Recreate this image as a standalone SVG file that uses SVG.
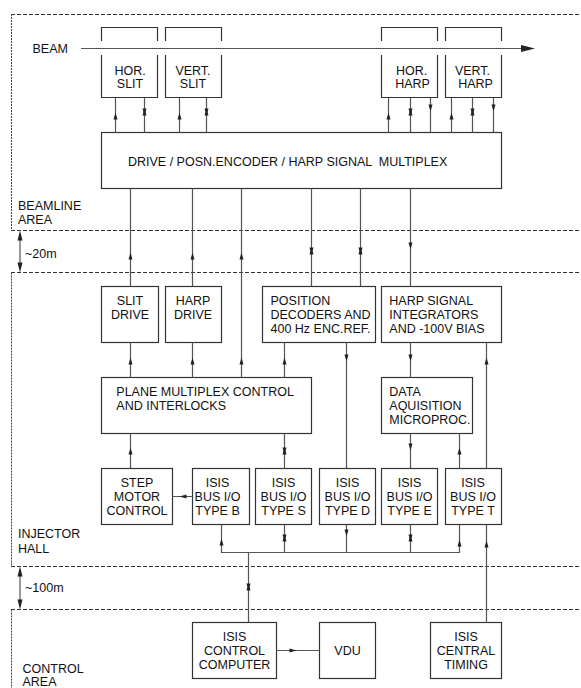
<svg xmlns="http://www.w3.org/2000/svg" xmlns:xlink="http://www.w3.org/1999/xlink" width="581" height="688" viewBox="0 0 581 688">
<style>
text{font-family:"Liberation Sans",Arial,Helvetica,sans-serif;font-size:12.5px;fill:#111}
.m{text-anchor:middle}
.box{fill:none;stroke:#333;stroke-width:1.2}
.ln{fill:none;stroke:#555;stroke-width:1.2}
.dh{fill:none;stroke:#333;stroke-width:1;stroke-dasharray:4,2}
.dv{fill:none;stroke:#444;stroke-width:1;stroke-dasharray:2,1}
.ah{fill:#222}
</style>
<defs>
<path id="up" d="M0,-3.5 L2,3.5 L-2,3.5 Z"/>
<path id="dn" d="M0,3.5 L2,-3.5 L-2,-3.5 Z"/>
<g id="bi"><path d="M0,-3.5 L2,3.5 L-2,3.5 Z"/><path d="M0,3.5 L2,-3.5 L-2,-3.5 Z"/></g>
<path id="lf" d="M-3.5,0 L3.5,-2 L3.5,2 Z"/>
<path id="rt" d="M3.5,0 L-3.5,-2 L-3.5,2 Z"/>
</defs>

<g id="areas">
<path class="dh" d="M11,14.5 H581 M11,230.5 H581 M11,272.5 H581 M11,566.5 H581 M11,609.5 H581"/>
<path class="dv" d="M11.5,14 V230 M11.5,272.5 V566 M11.5,609.5 V688"/>
<text x="18" y="210">BEAMLINE</text>
<text x="18" y="224">AREA</text>
<text x="18" y="538">INJECTOR</text>
<text x="18" y="553">HALL</text>
<text x="22.5" y="673">CONTROL</text>
<text x="22.5" y="686">AREA</text>
<path class="ln" d="M20,238 V265"/>
<polygon class="ah" points="20,230.5 22.5,240.5 17.5,240.5"/>
<polygon class="ah" points="20,272.5 22.5,262.5 17.5,262.5"/>
<text x="25" y="257.5">~20m</text>
<path class="ln" d="M20,574 V602"/>
<polygon class="ah" points="20,566.5 22.5,576.5 17.5,576.5"/>
<polygon class="ah" points="20,609.5 22.5,599.5 17.5,599.5"/>
<text x="25" y="592">~100m</text>
</g>

<g id="beam">
<text x="32.5" y="53">BEAM</text>
<path class="ln" d="M81,48.5 H523"/>
<polygon class="ah" points="521,45 535,48.5 521,52"/>
</g>

<g id="hor-slit">
<path class="box" d="M101.5,41 V27.5 H157.5 V41 M101.5,55 V97.5 H157.5 V55"/>
<text class="m" x="130" y="75">HOR.</text>
<text class="m" x="130" y="88">SLIT</text>
</g>
<g id="vert-slit">
<path class="box" d="M165.5,41 V27.5 H221.5 V41 M165.5,55 V97.5 H221.5 V55"/>
<text class="m" x="193" y="75">VERT.</text>
<text class="m" x="193" y="88">SLIT</text>
</g>
<g id="hor-harp">
<path class="box" d="M381.5,41 V27.5 H437.5 V41 M381.5,55 V97.5 H437.5 V55"/>
<text class="m" x="411.5" y="75">HOR.</text>
<text class="m" x="412.5" y="88">HARP</text>
</g>
<g id="vert-harp">
<path class="box" d="M445.5,41 V27.5 H501.5 V41 M445.5,55 V97.5 H501.5 V55"/>
<text class="m" x="472.5" y="75">VERT.</text>
<text class="m" x="475.5" y="88">HARP</text>
</g>

<g id="multiplex">
<rect class="box" x="101.5" y="132.5" width="400" height="56"/>
<text x="128" y="165.5" xml:space="preserve">DRIVE / POSN.ENCODER / HARP SIGNAL  MULTIPLEX</text>
</g>

<g id="slit-drive">
<rect class="box" x="101.5" y="286.5" width="57" height="56"/>
<text class="m" x="130" y="304.5">SLIT</text>
<text class="m" x="130" y="318.5">DRIVE</text>
</g>
<g id="harp-drive">
<rect class="box" x="165.5" y="286.5" width="56" height="56"/>
<text class="m" x="193" y="304.5">HARP</text>
<text class="m" x="193" y="318.5">DRIVE</text>
</g>
<g id="position">
<rect class="box" x="262.5" y="286.5" width="113" height="56"/>
<text x="270.5" y="304.5">POSITION</text>
<text x="270.5" y="318.5">DECODERS AND</text>
<text x="270.5" y="333">400 Hz ENC.REF.</text>
</g>
<g id="harp-integrators">
<rect class="box" x="381.5" y="286.5" width="120" height="56"/>
<text x="389.3" y="304.5">HARP SIGNAL</text>
<text x="389.3" y="318.5">INTEGRATORS</text>
<text x="389.3" y="333">AND -100V BIAS</text>
</g>

<g id="plane">
<rect class="box" x="101.5" y="377.5" width="210" height="56"/>
<text x="116.3" y="396">PLANE MULTIPLEX CONTROL</text>
<text x="116.3" y="410">AND INTERLOCKS</text>
</g>
<g id="daq">
<rect class="box" x="381.5" y="377.5" width="91" height="56"/>
<text x="389.3" y="396">DATA</text>
<text x="389.3" y="410">AQUISITION</text>
<text x="389.3" y="424.3">MICROPROC.</text>
</g>

<g id="step-motor">
<rect class="box" x="101.5" y="468.5" width="71" height="56"/>
<text class="m" x="137" y="487">STEP</text>
<text class="m" x="137" y="501">MOTOR</text>
<text class="m" x="137" y="515">CONTROL</text>
</g>
<g id="io-b">
<rect class="box" x="192.5" y="468.5" width="57" height="56"/>
<text class="m" x="217.5" y="487">ISIS</text>
<text class="m" x="217.5" y="501">BUS I/O</text>
<text class="m" x="217.5" y="515">TYPE B</text>
</g>
<g id="io-s">
<rect class="box" x="255.5" y="468.5" width="56" height="56"/>
<text class="m" x="283.5" y="487">ISIS</text>
<text class="m" x="283.5" y="501">BUS I/O</text>
<text class="m" x="283.5" y="515">TYPE S</text>
</g>
<g id="io-d">
<rect class="box" x="319.5" y="468.5" width="56" height="56"/>
<text class="m" x="347.5" y="487">ISIS</text>
<text class="m" x="347.5" y="501">BUS I/O</text>
<text class="m" x="347.5" y="515">TYPE D</text>
</g>
<g id="io-e">
<rect class="box" x="381.5" y="468.5" width="56" height="56"/>
<text class="m" x="409.5" y="487">ISIS</text>
<text class="m" x="409.5" y="501">BUS I/O</text>
<text class="m" x="409.5" y="515">TYPE E</text>
</g>
<g id="io-t">
<rect class="box" x="445.5" y="468.5" width="56" height="56"/>
<text class="m" x="473" y="487">ISIS</text>
<text class="m" x="473" y="501">BUS I/O</text>
<text class="m" x="473" y="515">TYPE T</text>
</g>

<g id="control-computer">
<rect class="box" x="192.5" y="622.5" width="84" height="56"/>
<text class="m" x="234.5" y="641">ISIS</text>
<text class="m" x="234.5" y="655">CONTROL</text>
<text class="m" x="234.5" y="669">COMPUTER</text>
</g>
<g id="vdu">
<rect class="box" x="319.5" y="622.5" width="56" height="56"/>
<text class="m" x="347.5" y="655">VDU</text>
</g>
<g id="central-timing">
<rect class="box" x="430.5" y="622.5" width="71" height="56"/>
<text class="m" x="466" y="641">ISIS</text>
<text class="m" x="466" y="655">CENTRAL</text>
<text class="m" x="466" y="669">TIMING</text>
</g>

<g id="connectors">
<path class="ln" d="M115.5,97.5 V132.5 M144.5,97.5 V132.5 M179.5,97.5 V132.5 M206.5,97.5 V132.5
M388.5,97.5 V132.5 M410.5,97.5 V132.5 M430.5,97.5 V132.5 M451.5,97.5 V132.5 M472.5,97.5 V132.5 M493.5,97.5 V132.5
M130.5,188.5 V286.5 M192.5,188.5 V286.5 M241.5,188.5 V377.5 M311.5,188.5 V286.5 M360.5,188.5 V286.5 M410.5,188.5 V286.5
M130.5,342.5 V377.5 M192.5,342.5 V377.5 M284.5,342.5 V377.5 M346.5,342.5 V468.5 M410.5,342.5 V377.5 M486.5,342.5 V468.5
M130.5,433.5 V468.5 M284.5,433.5 V468.5 M410.5,433.5 V468.5 M459.5,433.5 V468.5
M192.5,496.5 H172.5
M221.5,524.5 V552.5 M284.5,524.5 V552.5 M346.5,524.5 V552.5 M410.5,524.5 V552.5 M459.5,524.5 V552.5
M221,552.5 H460
M248.5,552.5 V622.5
M486.5,524.5 V622.5
M276.5,650.5 H319.5"/>
<g class="ah">
<use xlink:href="#up" x="115.5" y="116"/>
<use xlink:href="#bi" x="144.5" y="112"/>
<use xlink:href="#up" x="179.5" y="116"/>
<use xlink:href="#bi" x="206.5" y="112"/>
<use xlink:href="#up" x="388.5" y="116"/>
<use xlink:href="#bi" x="410.5" y="112"/>
<use xlink:href="#dn" x="430.5" y="108"/>
<use xlink:href="#up" x="451.5" y="116"/>
<use xlink:href="#bi" x="472.5" y="112"/>
<use xlink:href="#dn" x="493.5" y="108"/>

<use xlink:href="#up" x="130.5" y="256"/>
<use xlink:href="#up" x="192.5" y="256"/>
<use xlink:href="#up" x="241.5" y="256"/>
<use xlink:href="#bi" x="311.5" y="251"/>
<use xlink:href="#bi" x="360.5" y="251"/>
<use xlink:href="#dn" x="410.5" y="246"/>

<use xlink:href="#up" x="130.5" y="361"/>
<use xlink:href="#up" x="192.5" y="361"/>
<use xlink:href="#up" x="241.5" y="361"/>
<use xlink:href="#up" x="284.5" y="361"/>
<use xlink:href="#dn" x="346.5" y="358"/>
<use xlink:href="#dn" x="410.5" y="358"/>
<use xlink:href="#up" x="486.5" y="361"/>

<use xlink:href="#up" x="130.5" y="451"/>
<use xlink:href="#bi" x="284.5" y="451"/>
<use xlink:href="#dn" x="410.5" y="447"/>
<use xlink:href="#up" x="459.5" y="451"/>

<use xlink:href="#lf" x="183" y="496.5"/>

<use xlink:href="#up" x="221.5" y="542"/>
<use xlink:href="#bi" x="284.5" y="538"/>
<use xlink:href="#dn" x="346.5" y="533"/>
<use xlink:href="#bi" x="410.5" y="538"/>
<use xlink:href="#up" x="459.5" y="543"/>
<use xlink:href="#up" x="486.5" y="544"/>
<use xlink:href="#bi" x="248.5" y="587"/>
<use xlink:href="#rt" x="293" y="650.5"/>
</g>
</g>
</svg>
